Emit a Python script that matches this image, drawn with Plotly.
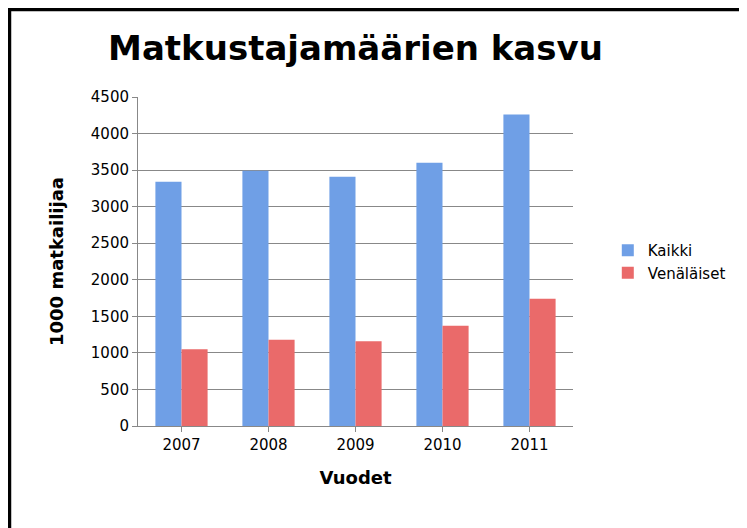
import plotly.graph_objects as go

years = ["2007", "2008", "2009", "2010", "2011"]
kaikki = [3340, 3490, 3410, 3600, 4260]
venalaiset = [1050, 1180, 1160, 1370, 1740]

fig = go.Figure()
fig.add_trace(go.Bar(x=years, y=kaikki, name="Kaikki",
                     marker=dict(color="#6f9fe6", line=dict(width=0))))
fig.add_trace(go.Bar(x=years, y=venalaiset, name="Venäläiset",
                     marker=dict(color="#ea6a6a", line=dict(width=0))))

fig.update_layout(
    width=747, height=528,
    margin=dict(l=130, r=182, t=89, b=110),
    paper_bgcolor="white", plot_bgcolor="white",
    font=dict(family="DejaVu Sans", size=15, color="black"),
    title=dict(text="<b>Matkustajamäärien kasvu</b>", x=0.5, xref="paper",
               y=0.925, yanchor="middle", font=dict(size=34)),
    barmode="group", bargap=0.4, bargroupgap=0,
    legend=dict(x=1.08, y=0.5, yanchor="middle", font=dict(size=15),
                tracegroupgap=14),
    xaxis=dict(showline=True, linecolor="#888", ticks="outside", tickcolor="#888",
               title=dict(text="<b>Vuodet</b>", standoff=18)),
    yaxis=dict(range=[0, 4500], dtick=500, showline=True, linecolor="#888",
               gridcolor="#888", ticks="outside", tickcolor="#888",
               title=dict(text="<b>1000 matkailijaa</b>", standoff=22)),
    shapes=[dict(type="rect", xref="paper", yref="paper", x0=-0.296, x1=1.414,
                 y0=-0.33, y1=1.267, line=dict(color="black", width=4))],
)
fig.write_html("out.html")
